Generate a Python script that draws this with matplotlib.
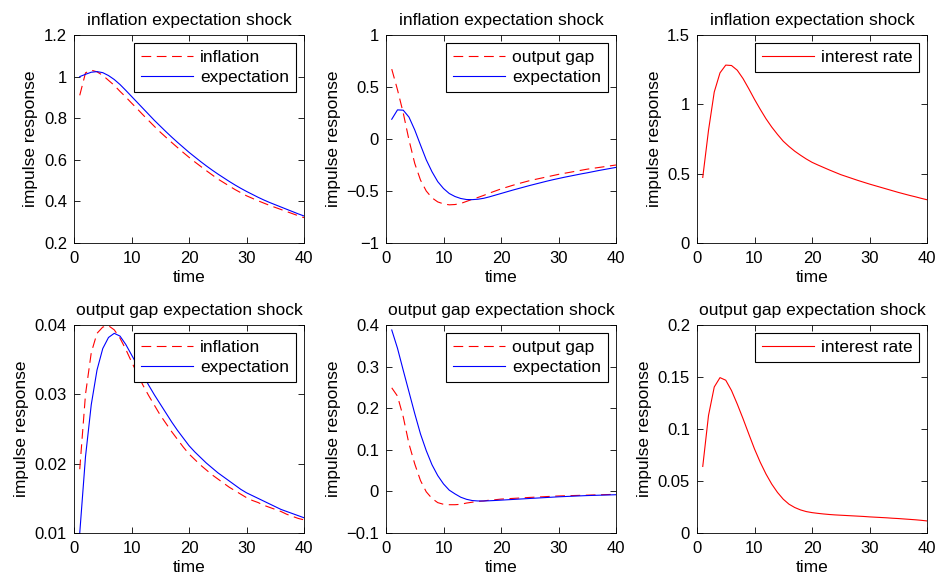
import matplotlib
matplotlib.use('Agg')
import matplotlib.pyplot as plt
from matplotlib.ticker import FuncFormatter

plt.rcParams['font.family'] = ['Liberation Sans', 'DejaVu Sans']
plt.rcParams['font.size'] = 12
plt.rcParams['lines.scale_dashes'] = False

t = list(range(1, 41))

# inflation expectation shock
pi_a = [0.910, 1.018, 1.031, 1.023, 1.006, 0.982, 0.958, 0.929, 0.902, 0.873,
        0.845, 0.816, 0.788, 0.760, 0.733, 0.708, 0.683, 0.659, 0.635, 0.612,
        0.590, 0.569, 0.548, 0.528, 0.508, 0.491, 0.474, 0.457, 0.442, 0.427,
        0.415, 0.403, 0.392, 0.381, 0.371, 0.361, 0.351, 0.341, 0.331, 0.322]
exp_pi_a = [1.000, 1.011, 1.021, 1.024, 1.019, 1.005, 0.986, 0.962, 0.934, 0.905,
            0.876, 0.847, 0.818, 0.789, 0.762, 0.735, 0.709, 0.684, 0.660, 0.636,
            0.614, 0.592, 0.571, 0.551, 0.532, 0.514, 0.496, 0.479, 0.463, 0.448,
            0.434, 0.420, 0.407, 0.395, 0.384, 0.373, 0.362, 0.351, 0.340, 0.330]
y_a = [0.672, 0.473, 0.250, -0.010, -0.235, -0.395, -0.500, -0.566, -0.605, -0.624,
       -0.633, -0.630, -0.620, -0.600, -0.580, -0.562, -0.542, -0.520, -0.500, -0.480,
       -0.463, -0.446, -0.430, -0.415, -0.400, -0.388, -0.376, -0.364, -0.352, -0.340,
       -0.330, -0.320, -0.310, -0.300, -0.290, -0.282, -0.274, -0.266, -0.258, -0.250]
exp_y_a = [0.190, 0.280, 0.277, 0.210, 0.087, -0.058, -0.200, -0.315, -0.410, -0.476,
           -0.524, -0.553, -0.572, -0.582, -0.583, -0.579, -0.570, -0.556, -0.540, -0.524,
           -0.508, -0.492, -0.477, -0.462, -0.447, -0.433, -0.419, -0.405, -0.392, -0.380,
           -0.368, -0.357, -0.346, -0.335, -0.325, -0.314, -0.303, -0.293, -0.283, -0.273]
i_a = [0.473, 0.812, 1.089, 1.227, 1.283, 1.280, 1.246, 1.186, 1.113, 1.036,
       0.964, 0.896, 0.836, 0.783, 0.734, 0.696, 0.662, 0.633, 0.606, 0.582,
       0.563, 0.545, 0.527, 0.510, 0.493, 0.479, 0.465, 0.451, 0.438, 0.425,
       0.413, 0.401, 0.389, 0.377, 0.365, 0.354, 0.343, 0.333, 0.322, 0.312]

# output gap expectation shock
pi_b = [0.0192, 0.0300, 0.0360, 0.0388, 0.0397, 0.0399, 0.0393, 0.0381, 0.0365, 0.0347,
        0.0330, 0.0313, 0.0298, 0.0284, 0.0270, 0.0258, 0.0246, 0.0235, 0.0224, 0.0214,
        0.0206, 0.0198, 0.0191, 0.0184, 0.0178, 0.0172, 0.0166, 0.0161, 0.0156, 0.0151,
        0.0147, 0.0144, 0.0140, 0.0137, 0.0134, 0.0131, 0.0127, 0.0124, 0.0121, 0.0119]
exp_pi_b = [0.0100, 0.0210, 0.0285, 0.0335, 0.0366, 0.0382, 0.0388, 0.0384, 0.0372, 0.0357,
            0.0342, 0.0328, 0.0313, 0.0299, 0.0286, 0.0273, 0.0260, 0.0248, 0.0237, 0.0226,
            0.0217, 0.0209, 0.0201, 0.0194, 0.0187, 0.0181, 0.0175, 0.0169, 0.0163, 0.0158,
            0.0154, 0.0150, 0.0146, 0.0142, 0.0138, 0.0134, 0.0131, 0.0128, 0.0125, 0.0122]
y_b = [0.249, 0.229, 0.179, 0.114, 0.066, 0.026, -0.001, -0.017, -0.027, -0.031,
       -0.032, -0.032, -0.031, -0.028, -0.026, -0.024, -0.023, -0.021, -0.020, -0.0185,
       -0.0177, -0.0169, -0.0161, -0.0153, -0.0145, -0.0138, -0.0131, -0.0124, -0.0117, -0.0110,
       -0.0106, -0.0102, -0.0098, -0.0094, -0.0090, -0.0086, -0.0082, -0.0078, -0.0074, -0.0070]
exp_y_b = [0.388, 0.344, 0.291, 0.239, 0.187, 0.138, 0.098, 0.064, 0.038, 0.018,
           0.003, -0.006, -0.014, -0.019, -0.022, -0.023, -0.023, -0.0225, -0.0218, -0.021,
           -0.0202, -0.0194, -0.0186, -0.0178, -0.017, -0.0162, -0.0154, -0.0146, -0.0138, -0.013,
           -0.0124, -0.0118, -0.0112, -0.0106, -0.010, -0.0096, -0.0092, -0.0088, -0.0084, -0.008]
i_b = [0.064, 0.113, 0.1404, 0.1494, 0.1469, 0.137, 0.124, 0.110, 0.0953, 0.0808,
       0.068, 0.0567, 0.047, 0.039, 0.0325, 0.0277, 0.0245, 0.0222, 0.0206, 0.0196,
       0.0189, 0.0183, 0.0178, 0.0174, 0.0171, 0.0168, 0.0165, 0.0162, 0.0159, 0.0155,
       0.0152, 0.0149, 0.0146, 0.0142, 0.0139, 0.0135, 0.0131, 0.0127, 0.0122, 0.0116]

titles = ['inflation expectation shock', 'output gap expectation shock']

fmt = FuncFormatter(lambda v, p: ('%g' % round(v, 6)).replace('-', '\u2212'))

fig = plt.figure(figsize=(9.4, 5.78), dpi=100)
W, H = 940.0, 578.0
lefts = [74, 386, 697]
tops = [35, 325]
aw, ah = 230, 208

dash = (7, 4)
txt = 12.5


def setup(ax, title, ylim, yticks):
    ax.set_xlim(0, 40)
    ax.set_ylim(*ylim)
    ax.set_xticks([0, 10, 20, 30, 40])
    ax.set_yticks(yticks)
    ax.yaxis.set_major_formatter(fmt)
    ax.tick_params(direction='in', top=True, right=True, length=4, width=0.6,
                   labelsize=12)
    ax.tick_params(axis='x', pad=6)
    ax.tick_params(axis='y', pad=5)
    for s in ax.spines.values():
        s.set_linewidth(0.6)
    ax.set_title(title, fontsize=txt, pad=7)
    ax.set_xlabel('time', fontsize=txt, labelpad=3)
    ax.set_ylabel('impulse response', fontsize=txt, labelpad=4)


def legend(ax):
    leg = ax.legend(loc='upper right', fancybox=False, edgecolor='black', framealpha=1,
                    handlelength=3.0, handletextpad=0.4, borderaxespad=0.45,
                    labelspacing=0.27, borderpad=0.4, fontsize=txt)
    leg.get_frame().set_linewidth(0.8)


axes = []
for r in range(2):
    row = []
    for c in range(3):
        ax = fig.add_axes([lefts[c] / W, 1 - (tops[r] + ah) / H, aw / W, ah / H])
        row.append(ax)
    axes.append(row)

ax = axes[0][0]
ax.plot(t, pi_a, color='r', lw=0.8, dashes=dash, label='inflation')
ax.plot(t, exp_pi_a, color='b', lw=0.8, label='expectation')
setup(ax, titles[0], (0.2, 1.2), [0.2, 0.4, 0.6, 0.8, 1.0, 1.2])
legend(ax)

ax = axes[0][1]
ax.plot(t, y_a, color='r', lw=0.8, dashes=dash, label='output gap')
ax.plot(t, exp_y_a, color='b', lw=0.8, label='expectation')
setup(ax, titles[0], (-1, 1), [-1, -0.5, 0, 0.5, 1])
legend(ax)

ax = axes[0][2]
ax.plot(t, i_a, color='r', lw=0.8, label='interest rate')
setup(ax, titles[0], (0, 1.5), [0, 0.5, 1, 1.5])
legend(ax)

ax = axes[1][0]
ax.plot(t, pi_b, color='r', lw=0.8, dashes=dash, label='inflation')
ax.plot(t, exp_pi_b, color='b', lw=0.8, label='expectation')
setup(ax, titles[1], (0.01, 0.04), [0.01, 0.02, 0.03, 0.04])
legend(ax)

ax = axes[1][1]
ax.plot(t, y_b, color='r', lw=0.8, dashes=dash, label='output gap')
ax.plot(t, exp_y_b, color='b', lw=0.8, label='expectation')
setup(ax, titles[1], (-0.1, 0.4), [-0.1, 0, 0.1, 0.2, 0.3, 0.4])
legend(ax)

ax = axes[1][2]
ax.plot(t, i_b, color='r', lw=0.8, label='interest rate')
setup(ax, titles[1], (0, 0.2), [0, 0.05, 0.1, 0.15, 0.2])
legend(ax)

fig.savefig('out.png', dpi=100)
